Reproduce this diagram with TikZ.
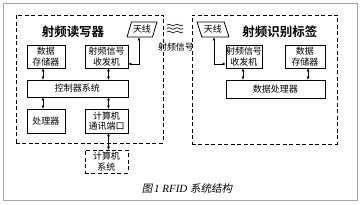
\documentclass[tikz,border=0pt]{standalone}
\usepackage{fontspec}
\newfontfamily\cjk{Noto Sans CJK SC}
\newfontfamily\cjkb{Noto Sans CJK SC Bold}
\newfontfamily\cjkit[FakeSlant=0.2]{Noto Sans CJK SC}
\newfontfamily\latit{Liberation Serif Italic}
\usetikzlibrary{arrows.meta,shapes.geometric,calc}
\begin{document}
\begin{tikzpicture}[x=1pt,y=-1pt,
  blk/.style={draw,line width=0.8pt,inner sep=0pt,align=center,font=\cjk\fontsize{9}{10.5}\selectfont},
  dbox/.style={draw,dashed,dash pattern=on 4pt off 2.5pt,line width=0.7pt,inner sep=0pt},
  ant/.style={draw,line width=0.8pt,trapezium,trapezium stretches=true,inner sep=0pt,
     minimum width=30pt,minimum height=15pt,font=\cjk\fontsize{9}{10}\selectfont},
  arr/.style={line width=0.7pt,{Triangle[length=3pt,width=2.6pt]}-{Triangle[length=3pt,width=2.6pt]}},
  ttl/.style={font=\cjkb\fontsize{12.5}{14}\selectfont}]
\useasboundingbox (0,0) rectangle (360,205);
\draw[gray!70,line width=0.6pt] (3,3) rectangle (357,200);
% reader
\node[dbox,minimum width=147pt,minimum height=128pt] (reader) at (89.5,79) {};
\node[ttl] (rtitle) at (73,32) {射频读写器};
\node[ant,trapezium left angle=65,trapezium right angle=115] (ant1) at (142,29.5) {天线};
\node[blk,minimum width=38pt,minimum height=23pt] (ds1) at (46,56.5) {数据\\存储器};
\node[blk,minimum width=43pt,minimum height=23pt] (rf1) at (106.5,56.5) {射频信号\\收发机};
\node[blk,minimum width=101pt,minimum height=17pt] (ctrl) at (77.5,88.5) {控制器系统};
\node[blk,minimum width=38pt,minimum height=24pt] (cpu) at (46,121) {处理器};
\node[blk,minimum width=43pt,minimum height=24pt] (port) at (106.5,121) {计算机\\通讯端口};
\node[dbox,align=center,minimum width=43pt,minimum height=23pt,font=\cjk\fontsize{9}{10.5}\selectfont] (pc) at (106.5,161.5) {计算机\\系统};
\draw[arr] ([xshift=-3pt]ds1.south) -- ([xshift=-3pt]ds1.south |- ctrl.north);
\draw[arr] ([xshift=2pt]rf1.south) -- ([xshift=2pt]rf1.south |- ctrl.north);
\draw[arr] ([xshift=-3pt]cpu.north |- ctrl.south) -- ([xshift=-3pt]cpu.north);
\draw[arr] ([xshift=2pt]port.north |- ctrl.south) -- ([xshift=2pt]port.north);
\draw[arr] ([xshift=2pt]port.south) -- ([xshift=2pt]pc.north);
\coordinate (k1) at ([xshift=-3pt]ant1.south |- 0,64);
\draw[arr] ([xshift=-3pt]ant1.south) -- (k1) -- (k1 -| rf1.east);
% tag
\node[dbox,minimum width=145pt,minimum height=129pt] (tag) at (264.5,79.5) {};
\node[ttl] (ttitle) at (280,32) {射频识别标签};
\node[ant,trapezium left angle=115,trapezium right angle=65,minimum width=32pt] (ant2) at (213,29.5) {天线};
\node[blk,minimum width=36pt,minimum height=23pt] (rf2) at (244,56.5) {射频信号\\收发机};
\node[blk,minimum width=40pt,minimum height=23pt] (ds2) at (305,56.5) {数据\\存储器};
\node[blk,minimum width=99pt,minimum height=18pt] (dp) at (275.5,89) {数据处理器};
\draw[arr] ([xshift=-1pt]rf2.south) -- ([xshift=-1pt]rf2.south |- dp.north);
\draw[arr] ([xshift=3pt]ds2.south) -- ([xshift=3pt]ds2.south |- dp.north);
\coordinate (k2) at ([xshift=1pt]ant2.south |- 0,64);
\draw[arr] ([xshift=1pt]ant2.south) -- (k2) -- (k2 -| rf2.west);
% waves
\foreach \dy in {0,3.5,7}{
  \draw[line width=0.6pt] (167,25+\dy) .. controls (170,22+\dy) and (172,28+\dy) .. (175,25+\dy)
     .. controls (178,22+\dy) and (180,28+\dy) .. (183,25+\dy);
}
\node[font=\cjk\fontsize{9}{10}\selectfont] (sig) at (176,47) {射频信号};
% caption
\node (cap) at (187,188) {\cjkit\fontsize{10.5}{12}\selectfont 图\,\latit\fontsize{11}{12}\selectfont 1 RFID \cjkit\fontsize{10.5}{12}\selectfont 系统结构};
\end{tikzpicture}
\end{document}
